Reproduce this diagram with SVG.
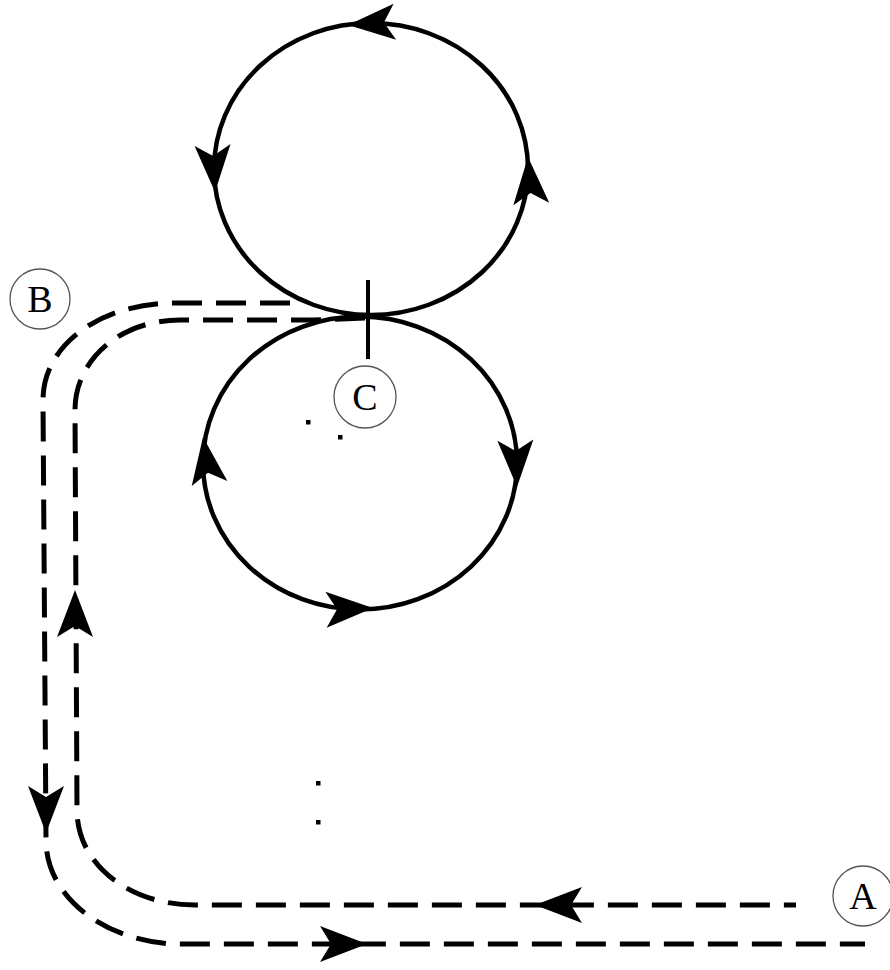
<svg xmlns="http://www.w3.org/2000/svg" xmlns:xlink="http://www.w3.org/1999/xlink" width="890" height="970" viewBox="0 0 890 970">
<style>
.loop{fill:none;stroke:#000;stroke-width:4.5}
.dash{fill:none;stroke:#000;stroke-width:5;stroke-dasharray:30 14}
.lab{fill:#fff;stroke:#555;stroke-width:1.3}
.lt{font-family:"Liberation Serif","Times New Roman",serif;font-size:38px;fill:#000;text-anchor:middle}
.ah{fill:#000}
</style>
<defs>
<path id="ah" d="M0,0 L-47,-18 L-36,0 L-47,18 Z"/>
</defs>
<rect width="890" height="970" fill="#fff"/>
<g id="connectors">
<ellipse class="loop" cx="371" cy="169" rx="157" ry="146"/>
<ellipse class="loop" cx="360" cy="463" rx="157" ry="146.5"/>
<path class="dash" d="M290,303 L175,303 C100,303 43,345 43,400 L46,840 C46,900 110,944 180,944 L865,944"/>
<path class="dash" d="M365,318 L313,320 L180,320 C120,320 75,360 75,410 L77,810 C77,865 130,905 195,905 L796,905"/>
<line x1="368" y1="280" x2="368" y2="359" stroke="#000" stroke-width="4"/>
<g class="ah">
<use xlink:href="#ah" transform="translate(348,25) rotate(176)"/>
<use xlink:href="#ah" transform="translate(215,192) rotate(87)"/>
<use xlink:href="#ah" transform="translate(528,157) rotate(266)"/>
<use xlink:href="#ah" transform="translate(517,487) rotate(88)"/>
<use xlink:href="#ah" transform="translate(373,608) rotate(-2)"/>
<use xlink:href="#ah" transform="translate(203,437) rotate(262)"/>
<use xlink:href="#ah" transform="translate(535,905) rotate(180)"/>
<use xlink:href="#ah" transform="translate(367,944) rotate(0)"/>
<use xlink:href="#ah" transform="translate(46,833) rotate(90)"/>
<use xlink:href="#ah" transform="translate(75,590) rotate(270)"/>
</g>
<g fill="#000">
<rect x="306" y="420" width="4.5" height="4.5"/>
<rect x="338" y="435" width="4.5" height="4.5"/>
<rect x="316" y="781" width="4.5" height="4.5"/>
<rect x="316" y="820" width="4.5" height="4.5"/>
</g>
</g>
<g id="node-B">
<circle class="lab" cx="40" cy="299" r="30"/>
<text class="lt" x="40" y="312">B</text>
</g>
<g id="node-C">
<circle class="lab" cx="365" cy="397" r="31"/>
<text class="lt" x="365" y="410">C</text>
</g>
<g id="node-A">
<circle class="lab" cx="863" cy="896" r="30"/>
<text class="lt" x="863" y="909">A</text>
</g>
</svg>
